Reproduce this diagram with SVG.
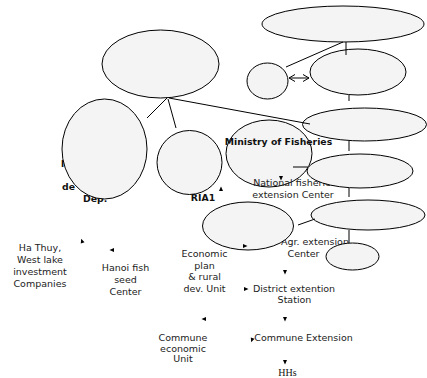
<svg xmlns="http://www.w3.org/2000/svg" xmlns:xlink="http://www.w3.org/1999/xlink" width="427" height="378" viewBox="0 0 427 378">
<style>
.n{fill:#f4f4f4;stroke:#000;stroke-width:1}
.t{font-family:"DejaVu Sans",sans-serif;font-size:9.5px;fill:#222;text-anchor:middle}
.ts{text-anchor:start}
.b{font-family:"DejaVu Sans",sans-serif;font-size:9.3px;font-weight:bold;fill:#111}
.s{font-family:"Liberation Serif",serif;font-size:10px;fill:#111;text-anchor:middle}
.c line{stroke:#000;stroke-width:1}
.h{fill:#000}
</style>
<defs>
<path id="tri" d="M-2,-2 L2.5,0 L-2,2 Z"/>
<marker id="oa" markerWidth="8" markerHeight="8" refX="6" refY="4" orient="auto-start-reverse" markerUnits="userSpaceOnUse">
<path d="M0,0.5 L6,4 L0,7.5" fill="none" stroke="#000" stroke-width="1"/>
</marker>
</defs>
<rect width="427" height="378" fill="#fff"/>

<g id="dard-text">
<text class="b" x="61" y="167">l</text>
<text class="b" x="62" y="190">de</text>
<text class="b" x="83" y="202">Dep.</text>
</g>

<g id="n-top-left"><ellipse class="n" cx="160.5" cy="64" rx="58.5" ry="34"/></g>
<g id="n-left"><ellipse class="n" cx="104.5" cy="149" rx="42.5" ry="50"/></g>
<g id="n-ria1"><ellipse class="n" cx="189.5" cy="162.5" rx="32.5" ry="32"/><text class="b" x="203" y="201" text-anchor="middle">RIA1</text></g>
<g id="n-top-right"><ellipse class="n" cx="343" cy="24" rx="81" ry="18"/></g>
<g id="n-small"><ellipse class="n" cx="267.5" cy="81" rx="20.5" ry="18"/></g>
<g id="n-r2"><ellipse class="n" cx="358" cy="72" rx="48" ry="23"/></g>
<g id="n-r3"><ellipse class="n" cx="364.5" cy="124.5" rx="62" ry="16.5"/></g>
<g id="n-ministry"><ellipse class="n" cx="269" cy="153.5" rx="43" ry="33.5"/>
<text class="b" x="278.5" y="145" text-anchor="middle">Ministry of Fisheries</text></g>
<g id="n-national">
<text class="t" x="294.5" y="186">National fisheries</text>
<text class="t" x="293" y="198">extension Center</text>
</g>
<g id="n-r4"><ellipse class="n" cx="360" cy="171" rx="53" ry="17"/></g>
<g id="n-agr">
<text class="t ts" x="281" y="244.5">Agr. extension</text>
<text class="t" x="303.5" y="256.5">Center</text>
</g>
<g id="n-r5"><ellipse class="n" cx="368" cy="215" rx="57" ry="15"/></g>
<g id="n-r6"><ellipse class="n" cx="352.5" cy="256.5" rx="26.5" ry="13.5"/></g>
<g id="n-mid"><ellipse class="n" cx="248" cy="226" rx="45.5" ry="24"/></g>

<g id="n-hathuy">
<text class="t" x="40" y="250.5">Ha Thuy,</text>
<text class="t" x="40" y="262.5">West lake</text>
<text class="t" x="40" y="274.5">investment</text>
<text class="t" x="40" y="286.5">Companies</text>
</g>
<g id="n-hanoi">
<text class="t" x="125.5" y="270.5">Hanoi fish</text>
<text class="t" x="125.5" y="282.5">seed</text>
<text class="t" x="125.5" y="294.5">Center</text>
</g>
<g id="n-econ">
<text class="t" x="204.5" y="257">Economic</text>
<text class="t" x="204.5" y="268.5">plan</text>
<text class="t" x="204.5" y="280">&amp; rural</text>
<text class="t" x="204.5" y="291.5">dev. Unit</text>
</g>
<g id="n-district">
<text class="t" x="294" y="291.5">District extention</text>
<text class="t" x="294.5" y="302.5">Station</text>
</g>
<g id="n-commune-econ">
<text class="t" x="183" y="340.5">Commune</text>
<text class="t" x="183" y="351.5">economic</text>
<text class="t" x="183" y="362">Unit</text>
</g>
<g id="n-commune-ext"><text class="t" x="303.5" y="341">Commune Extension</text></g>
<g id="n-hhs"><text class="s" x="287.5" y="376">HHs</text></g>

<g id="connectors" class="c">
<line x1="167" y1="98" x2="147" y2="118"/>
<line x1="168" y1="99" x2="176" y2="128"/>
<line x1="169" y1="98" x2="310" y2="124"/>
<line x1="286" y1="67" x2="343" y2="42"/>
<line x1="346" y1="42" x2="346" y2="55"/>
<line x1="349" y1="95" x2="349" y2="101"/>
<line x1="349" y1="141" x2="349" y2="151"/>
<line x1="293" y1="167" x2="308" y2="167"/>
<line x1="349" y1="188" x2="349" y2="197"/>
<line x1="298" y1="225" x2="315" y2="219"/>
<line x1="349" y1="230" x2="349" y2="243"/>
<line x1="289" y1="78" x2="309" y2="78" marker-start="url(#oa)" marker-end="url(#oa)"/>
<g class="h">
<use xlink:href="#tri" transform="translate(221,189) rotate(-90)"/>
<use xlink:href="#tri" transform="translate(281,178) rotate(90)"/>
<use xlink:href="#tri" transform="translate(82,241) rotate(-110)"/>
<use xlink:href="#tri" transform="translate(112,250) rotate(180)"/>
<use xlink:href="#tri" transform="translate(245,246)"/>
<use xlink:href="#tri" transform="translate(285,272) rotate(90)"/>
<use xlink:href="#tri" transform="translate(246,289)"/>
<use xlink:href="#tri" transform="translate(285,319) rotate(90)"/>
<use xlink:href="#tri" transform="translate(204,319) rotate(180)"/>
<use xlink:href="#tri" transform="translate(252,340) rotate(110)"/>
<use xlink:href="#tri" transform="translate(285,362) rotate(90)"/>
</g>
</g>
</svg>
